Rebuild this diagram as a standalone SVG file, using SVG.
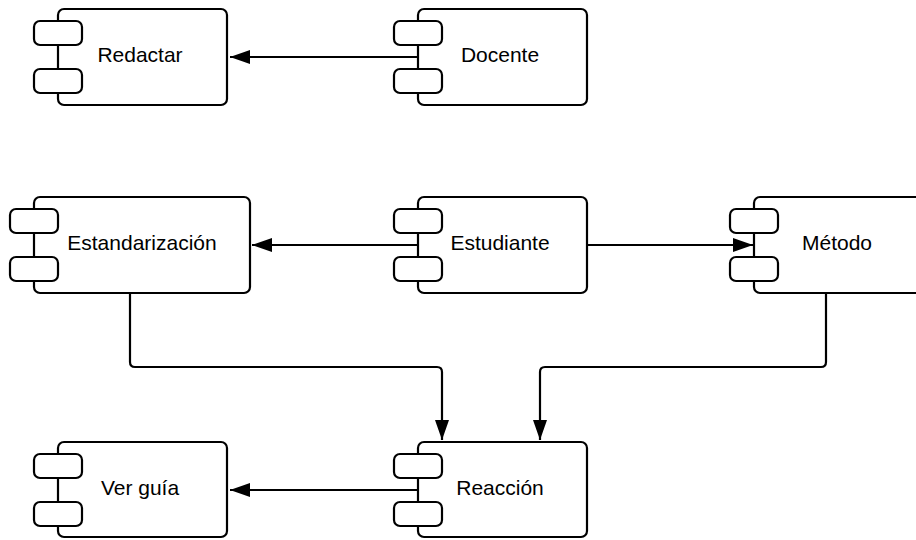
<svg xmlns="http://www.w3.org/2000/svg" width="916" height="540" viewBox="0 0 916 540">
<defs>
<style>
.body{fill:#fff;stroke:#000;stroke-width:2.2}
.port{fill:#fff;stroke:#000;stroke-width:2.2}
.lbl{font-family:"Liberation Sans",Arial,sans-serif;font-size:21px;fill:#000;text-anchor:middle}
.edge{fill:none;stroke:#000;stroke-width:2.2}
</style>
<marker id="arr" markerUnits="userSpaceOnUse" markerWidth="22" markerHeight="16" refX="20" refY="7" orient="auto">
<path d="M0,0 L20,7 L0,14 z" fill="#000"/>
</marker>
</defs>
<rect width="916" height="540" fill="#fff"/>

<g id="connectors">
<path class="edge" d="M418,57 H230" marker-end="url(#arr)"/>
<path class="edge" d="M418,245 H252" marker-end="url(#arr)"/>
<path class="edge" d="M587,245 H753" marker-end="url(#arr)"/>
<path class="edge" d="M130,293 V362 Q130,367 135,367 H437 Q442,367 442,372 V440" marker-end="url(#arr)"/>
<path class="edge" d="M826,293 V362 Q826,367 821,367 H545 Q540,367 540,372 V440" marker-end="url(#arr)"/>
<path class="edge" d="M418,490 H230" marker-end="url(#arr)"/>
</g>

<g id="redactar">
<rect class="body" x="58" y="9" width="169" height="96" rx="6"/>
<rect class="port" x="34" y="21" width="48" height="24" rx="6"/>
<rect class="port" x="34" y="69" width="48" height="24" rx="6"/>
<text class="lbl" x="140" y="62">Redactar</text>
</g>

<g id="docente">
<rect class="body" x="418" y="9" width="169" height="96" rx="6"/>
<rect class="port" x="394" y="21" width="48" height="24" rx="6"/>
<rect class="port" x="394" y="69" width="48" height="24" rx="6"/>
<text class="lbl" x="500" y="62">Docente</text>
</g>

<g id="estandarizacion">
<rect class="body" x="34" y="197" width="216" height="96" rx="6"/>
<rect class="port" x="10" y="209" width="48" height="24" rx="6"/>
<rect class="port" x="10" y="257" width="48" height="24" rx="6"/>
<text class="lbl" x="142" y="250">Estandarización</text>
</g>

<g id="estudiante">
<rect class="body" x="418" y="197" width="169" height="96" rx="6"/>
<rect class="port" x="394" y="209" width="48" height="24" rx="6"/>
<rect class="port" x="394" y="257" width="48" height="24" rx="6"/>
<text class="lbl" x="500" y="250">Estudiante</text>
</g>

<g id="metodo">
<rect class="body" x="754" y="197" width="169" height="96" rx="6"/>
<rect class="port" x="730" y="209" width="48" height="24" rx="6"/>
<rect class="port" x="730" y="257" width="48" height="24" rx="6"/>
<text class="lbl" x="837" y="250">Método</text>
</g>

<g id="ver-guia">
<rect class="body" x="58" y="442" width="169" height="95" rx="6"/>
<rect class="port" x="34" y="454" width="48" height="24" rx="6"/>
<rect class="port" x="34" y="502" width="48" height="24" rx="6"/>
<text class="lbl" x="140" y="495">Ver guía</text>
</g>

<g id="reaccion">
<rect class="body" x="418" y="442" width="169" height="95" rx="6"/>
<rect class="port" x="394" y="454" width="48" height="24" rx="6"/>
<rect class="port" x="394" y="502" width="48" height="24" rx="6"/>
<text class="lbl" x="500" y="495">Reacción</text>
</g>
</svg>
